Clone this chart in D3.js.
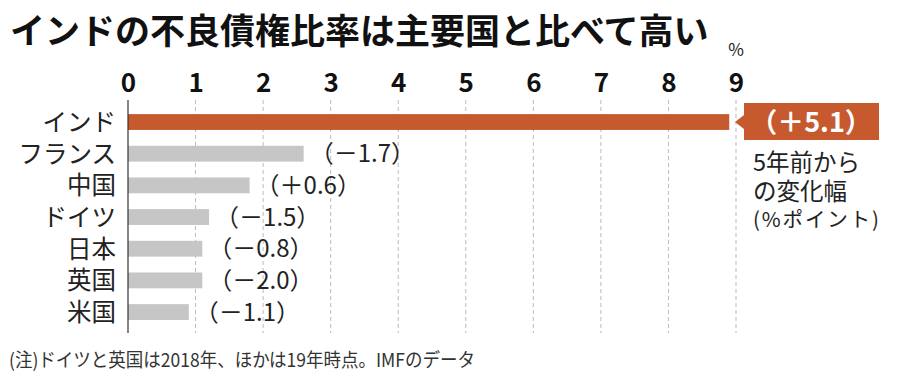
<!DOCTYPE html>
<html>
<head>
<meta charset="utf-8">
<script src="https://d3js.org/d3.v7.min.js"></script>
<style>
  body { margin: 0; background: #fff; }
  svg { display: block; font-family: "Noto Sans CJK JP", "Noto Sans", sans-serif; }
</style>
</head>
<body>
<svg width="900" height="391"></svg>
<script>
var countries = ['インド', 'フランス', '中国', 'ドイツ', '日本', '英国', '米国'];
var ratios = [8.9, 2.6, 1.8, 1.2, 1.1, 1.1, 0.9];
var changes = [5.1, -1.7, 0.6, -1.5, -0.8, -2.0, -1.1];
var ticks = [0, 1, 2, 3, 4, 5, 6, 7, 8, 9];

var orange = '#c65a2e', grey = '#c6c6c6';

var svg = d3.select('svg');

var x = d3.scaleLinear().domain([0, 9]).range([128, 736]);
var y = d3.scaleBand().domain(countries)
  .range([106.2, 327.9])
  .paddingInner(0.5).paddingOuter(0.25);

function fmt(v) {
  return '（' + (v >= 0 ? '＋' : '－') + Math.abs(v).toFixed(1) + '）';
}

// title
svg.append('text')
  .attr('x', 10).attr('y', 44)
  .attr('font-size', 35).attr('font-weight', 'bold')
  .attr('fill', '#111')
  .text('インドの不良債権比率は主要国と比べて高い');

// grid lines
svg.append('g').selectAll('line')
  .data(ticks.slice(1))
  .enter().append('line')
  .attr('x1', function(d) { return x(d); })
  .attr('x2', function(d) { return x(d); })
  .attr('y1', 100).attr('y2', 333)
  .attr('stroke', '#bbb').attr('stroke-width', 1)
  .attr('stroke-dasharray', '4,3');

// tick labels via axis
var axis = svg.append('g')
  .attr('transform', 'translate(0,92)')
  .call(d3.axisTop(x).tickValues(ticks).tickSize(0).tickPadding(0));
axis.select('.domain').remove();
axis.selectAll('text')
  .attr('font-family', '"Noto Sans CJK JP", sans-serif')
  .attr('font-size', 26).attr('font-weight', 'bold')
  .attr('fill', '#111');

svg.append('text')
  .attr('x', x(9)).attr('y', 56)
  .attr('text-anchor', 'middle')
  .attr('font-size', 17).attr('fill', '#222')
  .text('%');

// bars
svg.append('g').selectAll('rect')
  .data(countries)
  .enter().append('rect')
  .attr('x', x(0))
  .attr('y', function(d) { return y(d); })
  .attr('width', function(d, i) { return x(ratios[i]) - x(0); })
  .attr('height', y.bandwidth())
  .attr('fill', function(d, i) { return i === 0 ? orange : grey; });

// zero line
svg.append('line')
  .attr('x1', x(0)).attr('x2', x(0))
  .attr('y1', 100).attr('y2', 333)
  .attr('stroke', '#333').attr('stroke-width', 1.2);

// category labels
svg.append('g').selectAll('text')
  .data(countries)
  .enter().append('text')
  .attr('x', 116)
  .attr('y', function(d) { return y(d) + y.bandwidth() / 2; })
  .attr('dy', '0.36em')
  .attr('text-anchor', 'end')
  .attr('font-size', 24.5).attr('fill', '#222')
  .text(function(d) { return d; });

// change labels for grey bars
svg.append('g').selectAll('text')
  .data(countries.slice(1))
  .enter().append('text')
  .attr('x', function(d, i) { return x(ratios[i + 1]) + 6; })
  .attr('y', function(d) { return y(d) + y.bandwidth() / 2; })
  .attr('dy', '0.36em')
  .attr('font-size', 24).attr('fill', '#222')
  .text(function(d, i) { return fmt(changes[i + 1]); });

// callout for India
var cy = y(countries[0]) + y.bandwidth() / 2;
svg.append('path')
  .attr('d', 'M735,' + cy + 'L744,' + (cy - 7) + 'L744,103L879,103L879,140L744,140L744,' + (cy + 7) + 'Z')
  .attr('fill', orange);
svg.append('text')
  .attr('x', 811).attr('y', cy)
  .attr('dy', '0.36em')
  .attr('text-anchor', 'middle')
  .attr('font-size', 27).attr('font-weight', 'bold')
  .attr('fill', '#fff')
  .text(fmt(changes[0]));

var note = ['5年前から', 'の変化幅', '(%ポイント)'];
svg.append('g').selectAll('text')
  .data(note)
  .enter().append('text')
  .attr('x', 753)
  .attr('y', function(d, i) { return [171, 200, 227][i]; })
  .attr('font-size', function(d, i) { return i < 2 ? 23.5 : 20.5; })
  .attr('fill', '#222')
  .attr('textLength', function(d, i) { return i < 2 ? null : 126; })
  .attr('lengthAdjust', 'spacing')
  .text(function(d) { return d; });

// footnote
svg.append('text')
  .attr('x', 9).attr('y', 367)
  .attr('font-size', 19).attr('fill', '#333')
  .attr('textLength', 466)
  .attr('lengthAdjust', 'spacingAndGlyphs')
  .text('(注)ドイツと英国は2018年、ほかは19年時点。IMFのデータ');
</script>
</body>
</html>
